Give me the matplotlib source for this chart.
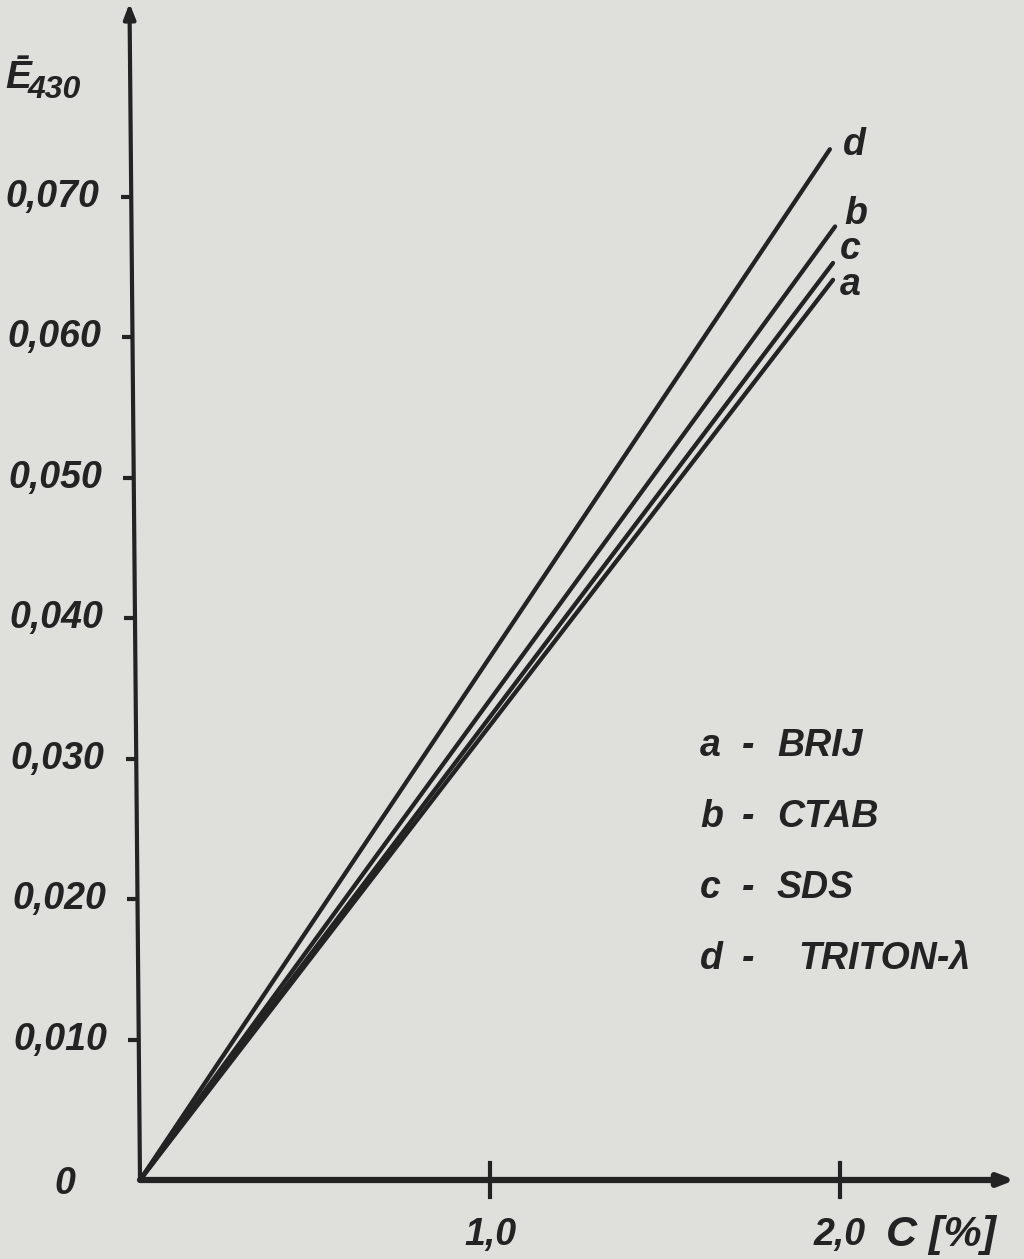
import matplotlib.pyplot as plt

# curve end points (C [%], E430), all lines start at the origin
curve_names = ["a", "b", "c", "d"]
curve_c_end = [1.98, 1.986, 1.98, 1.971]
curve_e_end = [0.0641, 0.0679, 0.0653, 0.0734]

y_ticks = [0.010, 0.020, 0.030, 0.040, 0.050, 0.060, 0.070]
y_tick_labels = ["0,010", "0,020", "0,030", "0,040", "0,050", "0,060", "0,070"]
x_ticks = [1.0, 2.0]
x_tick_labels = ["1,0", "2,0"]

legend_keys = ["a", "b", "c", "d"]
legend_names = ["BRIJ", "CTAB", "SDS", "TRITON-λ"]

paper = "#dfe0dc"
ink = "#232323"
hand = ["Liberation Sans Narrow", "Liberation Sans", "DejaVu Sans"]

fig = plt.figure(figsize=(10.24, 12.59), dpi=100, facecolor=paper)
ax = fig.add_axes([0, 0, 1, 1])
ax.set_facecolor(paper)
ax.set_xlim(-0.4, 2.5257)
ax.set_ylim(-0.005626, 0.08403)
ax.axis("off")

txt = dict(family=hand, style="italic", weight="bold", color=ink)

# axes with arrows
ax.annotate("", xy=(2.5, 0), xytext=(0, 0),
            arrowprops=dict(arrowstyle="-|>,head_length=0.9,head_width=0.35",
                            lw=4.5, color=ink, shrinkA=0, shrinkB=0))
ax.annotate("", xy=(-0.03, 0.0838), xytext=(0, 0),
            arrowprops=dict(arrowstyle="-|>,head_length=0.9,head_width=0.35",
                            lw=3, color=ink, shrinkA=0, shrinkB=0))

# y ticks and labels
for yv, lab in zip(y_ticks, y_tick_labels):
    xa = -0.03 * yv / 0.0838
    ax.plot([xa - 0.03, xa], [yv, yv], color=ink, lw=3, solid_capstyle="butt")
    ax.text(xa - 0.09, yv, lab, ha="right", va="center", fontsize=27, **txt)
ax.text(-0.215, -0.0003, "0", ha="center", va="center", fontsize=27, **txt)

# x ticks and labels
for xv, lab in zip(x_ticks, x_tick_labels):
    ax.plot([xv, xv], [-0.0012, 0.0012], color=ink, lw=3)
    ax.text(xv, -0.0039, lab, ha="center", va="center", fontsize=27, **txt)
ax.text(2.13, -0.0039, "C [%]", ha="left", va="center", fontsize=31, **txt)

# y axis title
ax.text(-0.385, 0.0785, "Ē", ha="left", va="center", fontsize=28, **txt)
ax.text(-0.32, 0.0776, "430", ha="left", va="center", fontsize=23, **txt)

# curves
for name, xe, ye in zip(curve_names, curve_c_end, curve_e_end):
    ax.plot([0, xe], [0, ye], color=ink, lw=3.1, solid_capstyle="round")

label_pos = {"d": (2.04, 0.0737), "b": (2.045, 0.0688), "c": (2.03, 0.0663), "a": (2.03, 0.0637)}
for name in curve_names:
    lx, ly = label_pos[name]
    ax.text(lx, ly, name, ha="center", va="center", fontsize=27, **txt)

# legend
for i, (k, nm) in enumerate(zip(legend_keys, legend_names)):
    yl = 0.0309 - i * 0.00505
    ax.text(1.6, yl, k, ha="left", va="center", fontsize=27, **txt)
    ax.text(1.72, yl, "-", ha="left", va="center", fontsize=27, **txt)
    ax.text(1.82 if nm != "TRITON-λ" else 1.88, yl, nm, ha="left", va="center",
            fontsize=27, **txt)

fig.savefig("out.png", dpi=100, facecolor=paper)
